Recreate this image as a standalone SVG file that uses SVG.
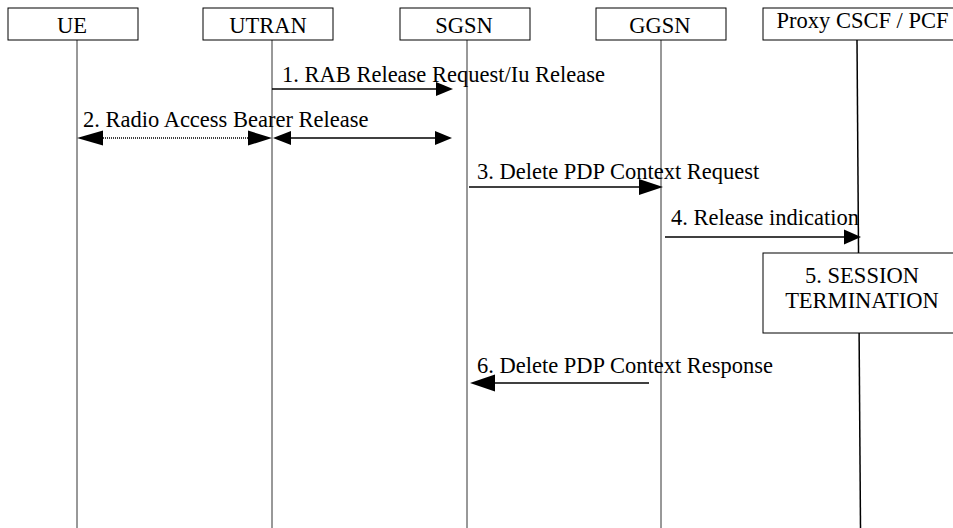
<svg xmlns="http://www.w3.org/2000/svg" width="953" height="528" viewBox="0 0 953 528">
<style>
  text { font-family: "Liberation Serif", "Times New Roman", serif; font-size: 22.5px; fill: #000; }
  .box { fill: #fff; stroke: #000; stroke-width: 1; }
  .life { stroke: #333; stroke-width: 1; fill: none; }
  .msg { stroke: #000; stroke-width: 1.6; fill: none; }
  .dot { stroke: #000; stroke-width: 1.6; fill: none; stroke-dasharray: 1 1; }
  .head { fill: #000; stroke: none; }
  .c { text-anchor: middle; }
</style>
<rect width="953" height="528" fill="#fff"/>
<g id="lifelines">
  <line class="life" x1="77" y1="40" x2="77" y2="528"/>
  <line class="life" x1="272" y1="40" x2="272" y2="528"/>
  <line class="life" x1="467" y1="40" x2="467" y2="528"/>
  <line class="life" x1="661" y1="40" x2="661" y2="528"/>
  <line class="life" x1="857" y1="40" x2="860.5" y2="528" style="stroke:#000;stroke-width:1.5"/>
</g>
<g id="ue">
  <rect class="box" x="8" y="8" width="130" height="32"/>
  <text class="c" x="72" y="33">UE</text>
</g>
<g id="utran">
  <rect class="box" x="203" y="8" width="130" height="32"/>
  <text class="c" x="268" y="33">UTRAN</text>
</g>
<g id="sgsn">
  <rect class="box" x="400" y="8" width="130" height="32"/>
  <text class="c" x="464" y="33">SGSN</text>
</g>
<g id="ggsn">
  <rect class="box" x="596" y="8" width="130" height="32"/>
  <text class="c" x="660" y="33">GGSN</text>
</g>
<g id="pcscf">
  <rect class="box" x="763" y="8" width="195" height="32"/>
  <text class="c" x="862.5" y="28">Proxy CSCF / PCF</text>
</g>
<g id="connectors">
  <line class="msg" x1="272" y1="89" x2="437" y2="89"/>
  <polygon class="head" points="453,89 436,82 436,96"/>

  <polygon class="head" points="77,138 103,130.5 103,145.5"/>
  <line class="dot" x1="103" y1="138" x2="248" y2="138"/>
  <polygon class="head" points="272,138 248,130.5 248,145.5"/>
  <polygon class="head" points="273,138 291,131 291,145"/>
  <line class="msg" x1="291" y1="138" x2="436" y2="138"/>
  <polygon class="head" points="452,138 435,131 435,145"/>

  <line class="msg" x1="469" y1="187" x2="640" y2="187"/>
  <polygon class="head" points="663,187 639,179 639,195"/>

  <line class="msg" x1="665" y1="237" x2="845" y2="237"/>
  <polygon class="head" points="861,237 844,229.5 844,244.5"/>

  <line class="msg" x1="649" y1="383" x2="494" y2="383"/>
  <polygon class="head" points="470,383 495,374.5 495,391.5"/>
</g>
<g id="labels">
  <text x="282" y="82">1. RAB Release Request/Iu Release</text>
  <text x="83" y="127">2. Radio Access Bearer Release</text>
  <text x="477" y="179">3. Delete PDP Context Request</text>
  <text x="671" y="225">4. Release indication</text>
  <text x="477" y="373">6. Delete PDP Context Response</text>
</g>
<g id="session-termination">
  <rect class="box" x="763" y="253" width="195" height="80"/>
  <text class="c" x="862" y="283">5. SESSION</text>
  <text class="c" x="862" y="308">TERMINATION</text>
</g>
</svg>
